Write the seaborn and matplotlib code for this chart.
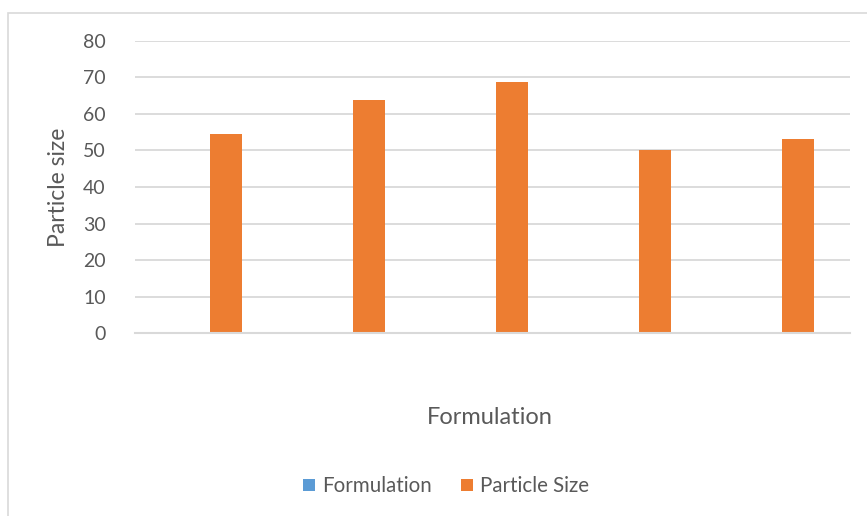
import matplotlib
matplotlib.use("Agg")
import matplotlib.pyplot as plt
import seaborn as sns
import pandas as pd
from matplotlib.patches import Rectangle, Patch

categories = ["F1", "F2", "F3", "F4", "F5"]
formulation_values = [0, 0, 0, 0, 0]
particle_size = [54.6, 63.7, 68.7, 50.0, 53.1]
series_names = ["Formulation", "Particle Size"]
colors = ["#5B9BD5", "#ED7D31"]
yticks = [0, 10, 20, 30, 40, 50, 60, 70, 80]

df = pd.DataFrame({
    "cat": categories * 2,
    "series": [series_names[0]] * 5 + [series_names[1]] * 5,
    "value": formulation_values + particle_size,
})

sns.set_theme(style="white")
plt.rcParams["font.family"] = ["Lato", "DejaVu Sans"]
text_color = "#595959"

W, H = 867, 516
fig = plt.figure(figsize=(W / 100, H / 100), dpi=100)
ax = fig.add_axes([135 / W, 1 - 333.3 / H, (850 - 135) / W, (333.3 - 40.7) / H])

sns.barplot(data=df, x="cat", y="value", hue="series", hue_order=series_names,
            palette=colors, width=0.545, gap=0.18, linewidth=0, ax=ax,
            legend=False, saturation=1)

ax.set_ylim(0, 80)
ax.set_xlim(-0.5, 4.5)
ax.set_yticks(yticks)
ax.set_yticklabels([str(v) for v in yticks], color=text_color, fontsize=14)
ax.set_xticks([])
ax.yaxis.grid(True, color="#D9D9D9", linewidth=1.3)
ax.set_axisbelow(True)
for s in ["top", "right", "left"]:
    ax.spines[s].set_visible(False)
ax.spines["bottom"].set_color("#D9D9D9")
ax.spines["bottom"].set_linewidth(1.5)
ax.tick_params(axis="y", length=0, pad=21)
ax.set_ylabel("Particle size", color=text_color, fontsize=16.5, labelpad=10)
ax.set_xlabel("")

fig.text(490 / W, 1 - 418 / H, "Formulation", ha="center", va="center",
         color=text_color, fontsize=17)

handles = [Patch(facecolor=c, edgecolor="none", label=n) for c, n in zip(colors, series_names)]
leg = fig.legend(handles=handles, loc="center", bbox_to_anchor=(446 / W, 1 - 486 / H),
                 ncol=2, frameon=False, fontsize=14.8, handlelength=0.55, handleheight=0.55,
                 handletextpad=0.35, columnspacing=1.45)
for t in leg.get_texts():
    t.set_color(text_color)

fig.patches.append(Rectangle((8 / W, -0.1), 1.2, 1 - 13 / H + 0.1, transform=fig.transFigure,
                             fill=False, edgecolor="#D9D9D9", linewidth=1.2))

fig.savefig("out.png", dpi=100)
